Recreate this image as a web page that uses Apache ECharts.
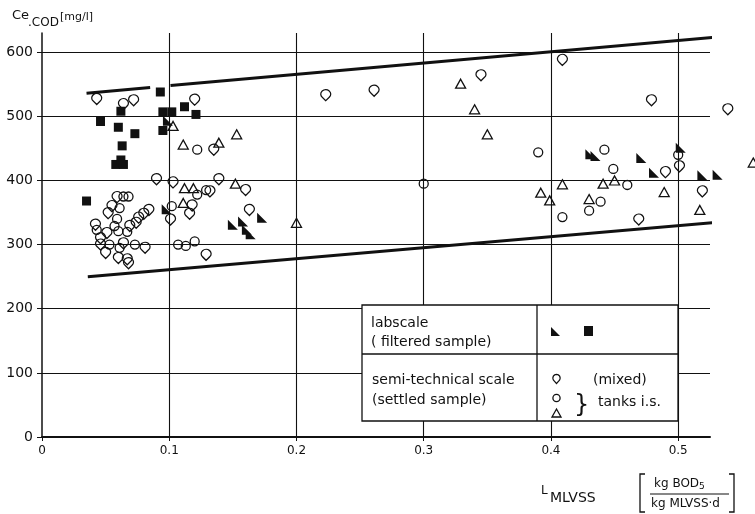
<!DOCTYPE html>
<html>
<head>
<meta charset="utf-8">
<script src="https://cdn.jsdelivr.net/npm/echarts@6/dist/echarts.min.js"></script>
<style>
html, body { margin: 0; padding: 0; background: #fff; }
#chart { width: 755px; height: 514px; }
</style>
</head>
<body>
<div id="chart"></div>
<script>
// axis ticks
var xTickLabels = ['0', '0.1', '0.2', '0.3', '0.4', '0.5'];
var yTickLabels = ['0', '100', '200', '300', '400', '500', '600'];

// labscale (filtered sample) - filled corner triangles
var labTriangles = [
	[0.099, 493], [0.098, 355], [0.150, 331], [0.158, 336], [0.161, 323], [0.164, 316],
	[0.173, 342], [0.431, 441], [0.435, 438], [0.471, 435], [0.502, 451], [0.481, 412],
	[0.519, 408], [0.531, 409]
];
// labscale (filtered sample) - filled squares
var labSquares = [
	[0.093, 538], [0.062, 508], [0.046, 492], [0.060, 483], [0.073, 473], [0.063, 454],
	[0.058, 425], [0.064, 425], [0.062, 432], [0.112, 515], [0.121, 503], [0.095, 507],
	[0.102, 507], [0.095, 478], [0.035, 368]
];
// semi-technical scale, mixed
var semiMixed = [
	[0.043, 527], [0.064, 519], [0.072, 525], [0.120, 526], [0.090, 402], [0.103, 397],
	[0.139, 402], [0.160, 385], [0.132, 383], [0.118, 361], [0.116, 348], [0.101, 339],
	[0.163, 354], [0.129, 284], [0.223, 533], [0.261, 540], [0.345, 564], [0.409, 588],
	[0.479, 525], [0.539, 511], [0.469, 339], [0.490, 413], [0.501, 422], [0.519, 383],
	[0.135, 448], [0.059, 374], [0.055, 360], [0.052, 349], [0.084, 354], [0.080, 348],
	[0.076, 342], [0.074, 334], [0.042, 331], [0.051, 318], [0.046, 310], [0.046, 300],
	[0.064, 302], [0.081, 295], [0.050, 287], [0.060, 279], [0.067, 277], [0.068, 271],
	[0.069, 329]
];
// semi-technical scale, tanks i.s. - circles
var semiTankCircles = [
	[0.122, 448], [0.129, 385], [0.122, 378], [0.300, 395], [0.390, 444], [0.442, 448],
	[0.449, 418], [0.500, 440], [0.460, 393], [0.430, 353], [0.439, 367], [0.409, 343],
	[0.107, 300], [0.113, 298], [0.120, 305], [0.102, 360], [0.064, 375], [0.068, 375],
	[0.061, 357], [0.059, 340], [0.043, 323], [0.060, 321], [0.067, 320], [0.057, 329],
	[0.053, 300], [0.073, 300], [0.061, 295]
];
// semi-technical scale, tanks i.s. - triangles
var semiTankTriangles = [
	[0.103, 485], [0.111, 456], [0.112, 388], [0.119, 388], [0.111, 365], [0.139, 459],
	[0.153, 472], [0.152, 395], [0.200, 334], [0.329, 551], [0.340, 511], [0.350, 472],
	[0.409, 394], [0.392, 381], [0.399, 369], [0.441, 395], [0.450, 400], [0.430, 371],
	[0.489, 382], [0.517, 354], [0.559, 428]
];
// envelope lines
var upperLineA = [[0.035, 536], [0.085, 545]];
var upperLineB = [[0.101, 548], [0.549, 627]];
var lowerLine = [[0.036, 250], [0.550, 338]];

var ink = '#111';
var font = 'DejaVu Sans';
var hollow = { color: 'rgba(0,0,0,0)', borderColor: ink, borderWidth: 1.3, opacity: 1 };
var solid = { color: ink, opacity: 1 };

function line(data) {
	return {
		type: 'line', data: data, symbol: 'none', clip: false, silent: true,
		lineStyle: { color: ink, width: 3 }
	};
}

// outline of the "mixed" marker for the legend box
function pinPoints(cx, cy, r) {
	var pts = [];
	for (var a = 135; a <= 405; a += 15) {
		var t = a * Math.PI / 180;
		pts.push([cx + r * Math.cos(t), cy + r * Math.sin(t)]);
	}
	pts.push([cx, cy + r * 1.55]);
	return pts;
}

var myChart = echarts.init(document.getElementById('chart'));
var option = {
	backgroundColor: '#fff',
	animation: false,
	grid: { left: 42, right: 45, top: 33, bottom: 77 },
	xAxis: {
		type: 'value', min: 0, max: 0.525, interval: 0.1,
		axisLine: { lineStyle: { color: ink, width: 2 } },
		axisTick: { length: 4, lineStyle: { color: ink } },
		axisLabel: {
			color: ink, fontFamily: font, fontSize: 12, margin: 8, showMaxLabel: false,
			formatter: function(v) { return xTickLabels[Math.round(v * 10)] || ''; }
		},
		splitLine: { show: true, showMinLine: false, showMaxLine: false, lineStyle: { color: ink, width: 1.1 } }
	},
	yAxis: {
		type: 'value', min: 0, max: 630, interval: 100,
		axisLine: { show: true, lineStyle: { color: ink, width: 1.5 } },
		axisTick: { show: true, length: 5, lineStyle: { color: ink } },
		axisLabel: {
			color: ink, fontFamily: font, fontSize: 14, margin: 9, showMaxLabel: false,
			formatter: function(v) { return yTickLabels[Math.round(v / 100)] || ''; }
		},
		splitLine: { show: true, showMinLine: false, showMaxLine: false, lineStyle: { color: ink, width: 1.1 } }
	},
	series: [
		line(upperLineA), line(upperLineB), line(lowerLine),
		{
			type: 'scatter', data: semiTankCircles, clip: false,
			symbol: 'circle', symbolSize: 9, itemStyle: hollow
		},
		{
			type: 'scatter', data: semiMixed, clip: false,
			symbol: 'path://M5,11 L2.2,7.8 A4,4 0 1 1 7.8,7.8 Z', symbolSize: [10, 11], itemStyle: hollow
		},
		{
			type: 'scatter', data: semiTankTriangles, clip: false,
			symbol: 'triangle', symbolSize: [10, 9], itemStyle: hollow
		},
		{
			type: 'scatter', data: labSquares, clip: false,
			symbol: 'rect', symbolSize: 9, itemStyle: solid
		},
		{
			type: 'scatter', data: labTriangles, clip: false,
			symbol: 'path://M0,0 L0,10 L10,10 Z', symbolSize: 10, itemStyle: solid
		}
	],
	graphic: [
		// y axis title
		{ type: 'text', style: { text: 'Ce', x: 12, y: 16, font: '13px "DejaVu Sans"', fill: ink, verticalAlign: 'middle' } },
		{ type: 'text', style: { text: '.COD', x: 28, y: 23, font: '12px "DejaVu Sans"', fill: ink, verticalAlign: 'middle' } },
		{ type: 'text', style: { text: '[mg/l]', x: 60, y: 17, font: '11px "DejaVu Sans"', fill: ink, verticalAlign: 'middle' } },
		// x axis title
		{ type: 'text', style: { text: 'L', x: 541, y: 491, font: '12px "DejaVu Sans"', fill: ink, verticalAlign: 'middle' } },
		{ type: 'text', style: { text: 'MLVSS', x: 550, y: 498, font: '14px "DejaVu Sans"', fill: ink, verticalAlign: 'middle' } },
		{ type: 'polyline', shape: { points: [[645, 474], [640, 474], [640, 512], [645, 512]] }, style: { stroke: ink, lineWidth: 1.3, fill: null } },
		{ type: 'polyline', shape: { points: [[729, 474], [734, 474], [734, 512], [729, 512]] }, style: { stroke: ink, lineWidth: 1.3, fill: null } },
		{
			type: 'text', style: {
				text: '{n|kg BOD}{s|5}', x: 654, y: 484, fill: ink, verticalAlign: 'middle',
				rich: { n: { fontFamily: font, fontSize: 12, color: ink }, s: { fontFamily: font, fontSize: 9, color: ink, padding: [6, 0, 0, 0] } }
			}
		},
		{ type: 'line', shape: { x1: 650, y1: 494, x2: 729, y2: 494 }, style: { stroke: ink, lineWidth: 1.2 } },
		{ type: 'text', style: { text: 'kg MLVSS\u00b7d', x: 651, y: 504, font: '12px "DejaVu Sans"', fill: ink, verticalAlign: 'middle' } },
		// legend box
		{ type: 'rect', z: 100, shape: { x: 362, y: 305, width: 316, height: 116 }, style: { fill: '#fff', stroke: ink, lineWidth: 1.3 } },
		{ type: 'line', z: 101, shape: { x1: 362, y1: 354, x2: 678, y2: 354 }, style: { stroke: ink, lineWidth: 1.3 } },
		{ type: 'line', z: 101, shape: { x1: 537, y1: 305, x2: 537, y2: 421 }, style: { stroke: ink, lineWidth: 1.3 } },
		{ type: 'text', z: 101, style: { text: 'labscale', x: 371, y: 323, font: '14px "DejaVu Sans"', fill: ink, verticalAlign: 'middle' } },
		{ type: 'text', z: 101, style: { text: '( filtered sample)', x: 371, y: 342, font: '14px "DejaVu Sans"', fill: ink, verticalAlign: 'middle' } },
		{ type: 'text', z: 101, style: { text: 'semi-technical scale', x: 372, y: 380, font: '14px "DejaVu Sans"', fill: ink, verticalAlign: 'middle' } },
		{ type: 'text', z: 101, style: { text: '(settled sample)', x: 372, y: 400, font: '14px "DejaVu Sans"', fill: ink, verticalAlign: 'middle' } },
		{ type: 'polygon', z: 101, shape: { points: [[551, 327], [551, 336], [560, 336]] }, style: { fill: ink } },
		{ type: 'rect', z: 101, shape: { x: 584, y: 326, width: 9, height: 10 }, style: { fill: ink } },
		{ type: 'polygon', z: 101, shape: { points: pinPoints(556.5, 378, 3.6) }, style: { fill: null, stroke: ink, lineWidth: 1.3 } },
		{ type: 'text', z: 101, style: { text: '(mixed)', x: 593, y: 380, font: '14px "DejaVu Sans"', fill: ink, verticalAlign: 'middle' } },
		{ type: 'circle', z: 101, shape: { cx: 556.5, cy: 398, r: 3.6 }, style: { fill: null, stroke: ink, lineWidth: 1.3 } },
		{ type: 'polygon', z: 101, shape: { points: [[552, 417], [561, 417], [556.5, 409]] }, style: { fill: null, stroke: ink, lineWidth: 1.3 } },
		{ type: 'text', z: 101, style: { text: '}', x: 574, y: 406, font: '24px "DejaVu Sans"', fill: ink, verticalAlign: 'middle' } },
		{ type: 'text', z: 101, style: { text: 'tanks i.s.', x: 598, y: 402, font: '14px "DejaVu Sans"', fill: ink, verticalAlign: 'middle' } }
	]
};
myChart.setOption(option);
window.addEventListener('resize', function() {
	myChart.resize();
});
</script>
</body>
</html>
